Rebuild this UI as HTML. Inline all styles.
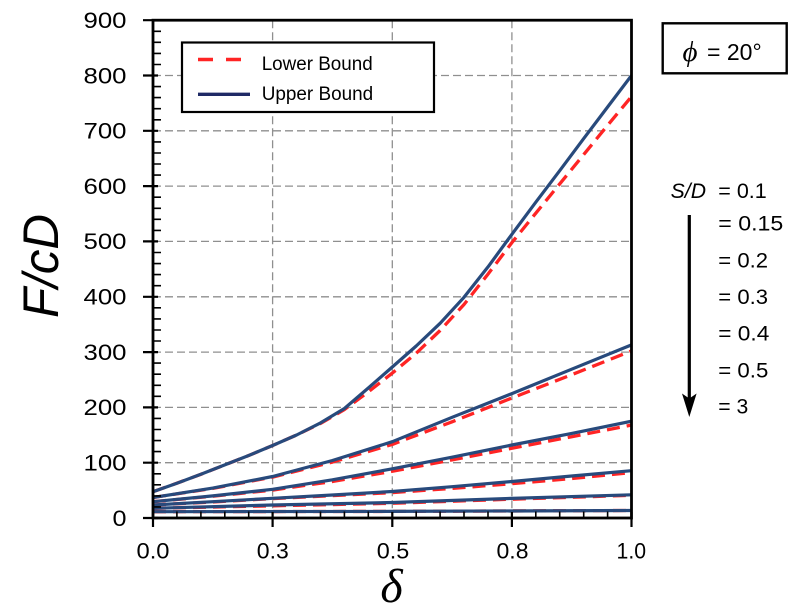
<!DOCTYPE html>
<html>
<head>
<meta charset="utf-8">
<style>
html,body{margin:0;padding:0;background:#fff;}
svg{display:block;}
text{font-family:"Liberation Sans",sans-serif;fill:#000;}
</style>
</head>
<body>
<svg width="800" height="616" viewBox="0 0 800 616" xmlns="http://www.w3.org/2000/svg">
<defs>
<clipPath id="pc"><rect x="153" y="20.2" width="478.5" height="497.8"/></clipPath>
</defs>
<rect width="800" height="616" fill="#fff"/>

<!-- gridlines -->
<g stroke="#8f8f8f" stroke-width="1.3" stroke-dasharray="8,4" fill="none">
<path d="M153 462.7H631.5M153 407.4H631.5M153 352.1H631.5M153 296.8H631.5M153 241.4H631.5M153 186.1H631.5M153 130.8H631.5M153 75.5H631.5"/>
<path d="M272.6 20.2V518M392.3 20.2V518M511.9 20.2V518"/>
</g>

<!-- curves -->
<g clip-path="url(#pc)" fill="none" stroke-linejoin="round">
<g stroke="#ff2424" stroke-width="3.3" stroke-dasharray="13,7">
<path d="M153 491.7L176.9 483.2L200.9 474.3L224.8 464.9L248.7 455.5L272.6 445.5L296.6 435.0L320.5 423.4L344.4 409.6L368.3 391.9L392.3 373.1L416.2 353.2L440.1 330.5L464 304.5L488 274.1L511.9 242.6L535.8 213.2L559.7 183.9L583.7 154.6L607.6 125.3L631.5 96.5"/>
<path d="M153 497.5L212.8 488.4L272.6 477.1L332.4 462.1L392.3 444.4L452.1 421.8L511.9 398.0L571.7 374.7L631.5 350.9"/>
<path d="M153 501.7L212.8 496.2L272.6 490.1L332.4 481.5L392.3 471.3L452.1 459.9L511.9 448.3L571.7 436.7L631.5 425.1"/>
<path d="M153 505.0L212.8 502.0L272.6 498.6L332.4 495.6L392.3 492.6L452.1 488.4L511.9 483.7L571.7 478.5L631.5 472.6"/>
<path d="M153 508.3L272.6 505.8L392.3 503.3L511.9 499.2L631.5 495.3"/>
<path d="M153 511.7L392.3 511.4L631.5 510.5"/>
</g>
<g stroke="#284a7c" stroke-width="3.2">
<path d="M153 491.7L176.9 483.2L200.9 474.3L224.8 464.9L248.7 455.5L272.6 445.5L296.6 435.0L320.5 422.9L344.4 408.5L368.3 388.0L392.3 367.0L416.2 346.0L440.1 323.3L464 297.3L488 266.9L511.9 234.3L535.8 202.2L559.7 170.7L583.7 138.6L607.6 107.0L631.5 75.5"/>
<path d="M153 497.5L212.8 488.1L272.6 476.5L332.4 460.5L392.3 441.7L452.1 417.3L511.9 393.6L571.7 369.2L631.5 344.9"/>
<path d="M153 501.7L212.8 495.9L272.6 489.3L332.4 479.8L392.3 468.8L452.1 457.2L511.9 445.0L571.7 433.4L631.5 421.2"/>
<path d="M153 505.0L212.8 501.7L272.6 498.3L332.4 495.0L392.3 491.5L452.1 486.7L511.9 481.5L571.7 476.0L631.5 470.7"/>
<path d="M153 508.3L272.6 505.0L392.3 502.5L511.9 498.4L631.5 494.8"/>
<path d="M153 511.7L392.3 511.4L631.5 510.5"/>
</g>
</g>

<!-- ticks -->
<g stroke="#000" stroke-width="1.6" fill="none">
<path d="M153 506.9h8M153 495.9h8M153 484.8h8M153 473.8h8M153 451.6h8M153 440.6h8M153 429.5h8M153 418.4h8M153 396.3h8M153 385.3h8M153 374.2h8M153 363.1h8M153 341.0h8M153 330.0h8M153 318.9h8M153 307.8h8M153 285.7h8M153 274.6h8M153 263.6h8M153 252.5h8M153 230.4h8M153 219.3h8M153 208.3h8M153 197.2h8M153 175.1h8M153 164.0h8M153 153.0h8M153 141.9h8M153 119.8h8M153 108.7h8M153 97.6h8M153 86.6h8M153 64.5h8M153 53.4h8M153 42.3h8M153 31.3h8"/>
<path d="M176.9 518v-6.5M200.9 518v-6.5M224.8 518v-6.5M248.7 518v-6.5M296.6 518v-6.5M320.5 518v-6.5M344.4 518v-6.5M368.3 518v-6.5M416.2 518v-6.5M440.1 518v-6.5M464 518v-6.5M488 518v-6.5M535.8 518v-6.5M559.7 518v-6.5M583.7 518v-6.5M607.6 518v-6.5"/>
</g>
<g stroke="#000" stroke-width="2.2" fill="none">
<path d="M143 518H158M143 462.7H158M143 407.4H158M143 352.1H158M143 296.8H158M143 241.4H158M143 186.1H158M143 130.8H158M143 75.5H158M143 20.2H158"/>
<path d="M153 512V527M272.6 512V527M392.3 512V527M511.9 512V527M631.5 512V527"/>
</g>

<!-- frame -->
<rect x="153" y="20.2" width="478.5" height="497.8" fill="none" stroke="#000" stroke-width="2.8"/>

<!-- y tick labels -->
<g font-size="22" text-anchor="end">
<text x="126.5" y="525.8" textLength="14" lengthAdjust="spacingAndGlyphs">0</text>
<text x="126.5" y="470.5" textLength="43" lengthAdjust="spacingAndGlyphs">100</text>
<text x="126.5" y="415.2" textLength="43" lengthAdjust="spacingAndGlyphs">200</text>
<text x="126.5" y="359.9" textLength="43" lengthAdjust="spacingAndGlyphs">300</text>
<text x="126.5" y="304.6" textLength="43" lengthAdjust="spacingAndGlyphs">400</text>
<text x="126.5" y="249.2" textLength="43" lengthAdjust="spacingAndGlyphs">500</text>
<text x="126.5" y="193.9" textLength="43" lengthAdjust="spacingAndGlyphs">600</text>
<text x="126.5" y="138.6" textLength="43" lengthAdjust="spacingAndGlyphs">700</text>
<text x="126.5" y="83.3" textLength="43" lengthAdjust="spacingAndGlyphs">800</text>
<text x="126.5" y="28.0" textLength="43" lengthAdjust="spacingAndGlyphs">900</text>
</g>

<!-- x tick labels -->
<g font-size="22" text-anchor="middle">
<text x="153" y="558.3" textLength="33" lengthAdjust="spacingAndGlyphs">0.0</text>
<text x="272.8" y="558.3" textLength="32" lengthAdjust="spacingAndGlyphs">0.3</text>
<text x="393" y="558.3" textLength="32.5" lengthAdjust="spacingAndGlyphs">0.5</text>
<text x="512.5" y="558.3" textLength="32" lengthAdjust="spacingAndGlyphs">0.8</text>
<text x="631.3" y="558.3" textLength="29.5" lengthAdjust="spacingAndGlyphs">1.0</text>
</g>

<!-- axis titles -->
<text transform="translate(58,266) rotate(-90)" text-anchor="middle" font-size="50" font-style="italic" textLength="104" lengthAdjust="spacingAndGlyphs">F/cD</text>
<text x="391.5" y="602" text-anchor="middle" font-size="48" font-style="italic" style="font-family:'Liberation Serif',serif">δ</text>

<!-- legend -->
<rect x="182" y="42.5" width="252" height="69.5" fill="#fff" stroke="#000" stroke-width="2.2"/>
<path d="M198 59.5H242" stroke="#ff2424" stroke-width="3.4" stroke-dasharray="15,13"/>
<path d="M198 94.3H250" stroke="#1f2a66" stroke-width="3.4"/>
<text x="261.7" y="70" font-size="19" textLength="111" lengthAdjust="spacingAndGlyphs">Lower Bound</text>
<text x="261.7" y="100" font-size="19" textLength="111.5" lengthAdjust="spacingAndGlyphs">Upper Bound</text>

<!-- phi box -->
<rect x="662.7" y="23.3" width="124" height="50" fill="#fff" stroke="#000" stroke-width="2.4"/>
<text x="682.5" y="61" font-size="29" font-style="italic" style="font-family:'Liberation Serif',serif">ϕ</text>
<text x="707" y="60" font-size="23" textLength="54.7" lengthAdjust="spacingAndGlyphs">= 20°</text>

<!-- S/D labels -->
<text x="670.7" y="198" font-size="21" font-style="italic" textLength="35.3" lengthAdjust="spacingAndGlyphs">S/D</text>
<g font-size="21">
<text x="718.3" y="198" textLength="48.4" lengthAdjust="spacingAndGlyphs">= 0.1</text>
<text x="718.3" y="230.7" textLength="65" lengthAdjust="spacingAndGlyphs">= 0.15</text>
<text x="718.3" y="267.3" textLength="49.7" lengthAdjust="spacingAndGlyphs">= 0.2</text>
<text x="718.3" y="304" textLength="49.7" lengthAdjust="spacingAndGlyphs">= 0.3</text>
<text x="718.3" y="340.7" textLength="51" lengthAdjust="spacingAndGlyphs">= 0.4</text>
<text x="718.3" y="377.3" textLength="50" lengthAdjust="spacingAndGlyphs">= 0.5</text>
<text x="718.3" y="413.5" textLength="30" lengthAdjust="spacingAndGlyphs">= 3</text>
</g>

<!-- arrow -->
<path d="M689.3 215V400" stroke="#000" stroke-width="3.2"/>
<path d="M682 393.5L689.3 398.5L696.6 393.5L689.3 417Z" fill="#000"/>
</svg>
</body>
</html>
